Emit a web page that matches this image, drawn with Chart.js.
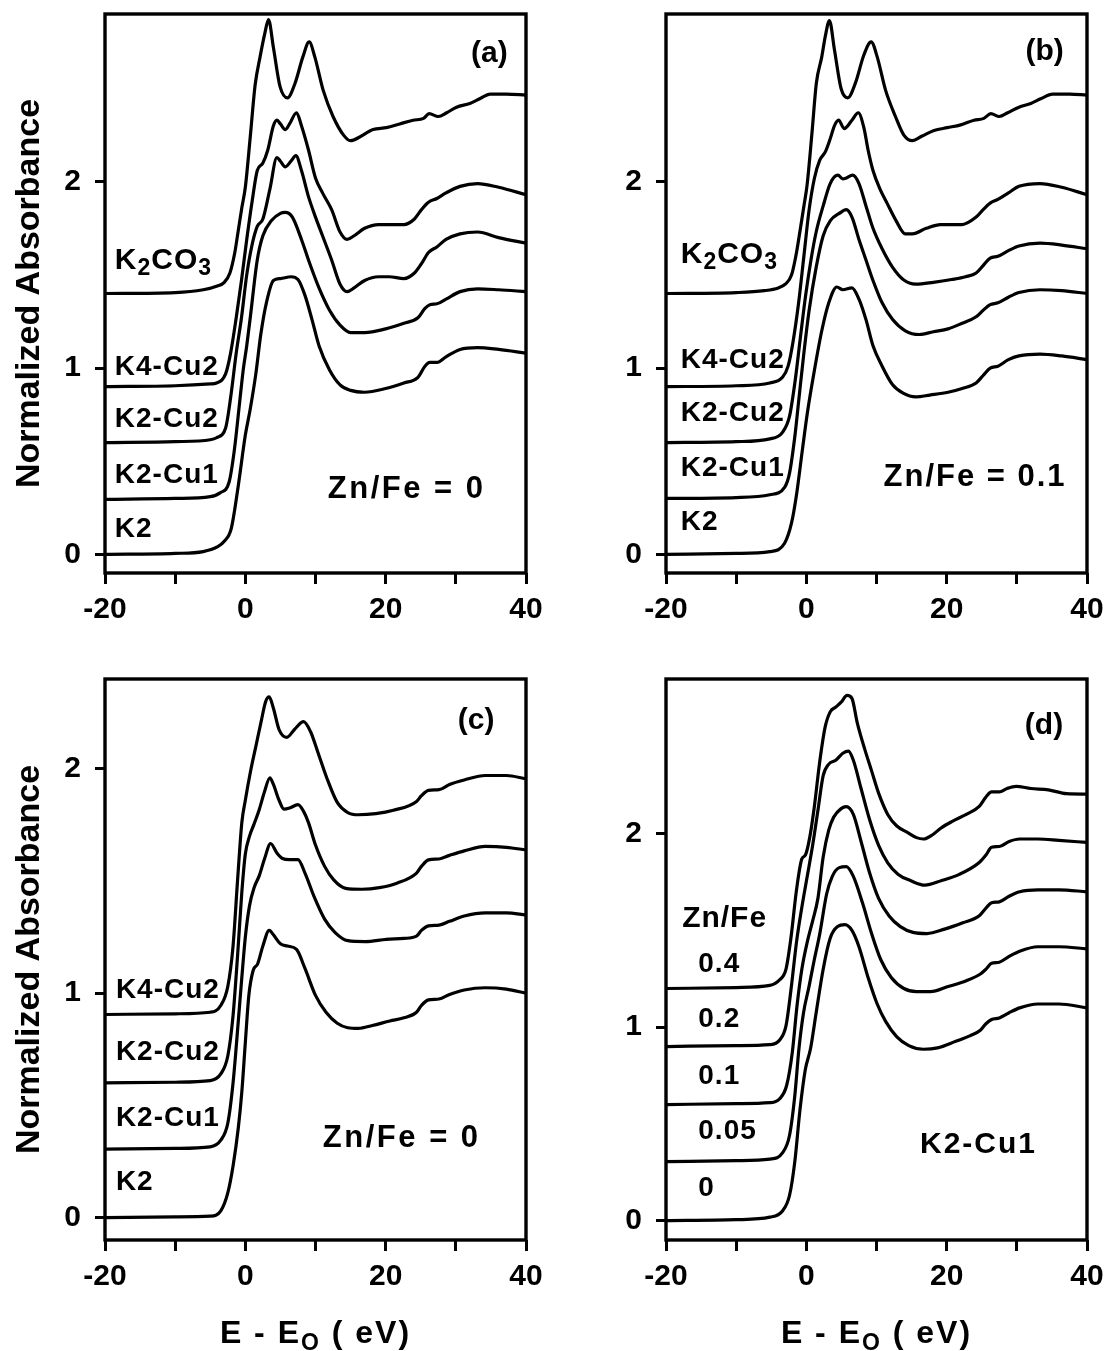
<!DOCTYPE html>
<html><head><meta charset="utf-8">
<script src="https://cdn.jsdelivr.net/npm/chart.js@4.4.1/dist/chart.umd.min.js"></script>
<style>
html,body{margin:0;padding:0;background:#fff;}
#wrap{position:relative;width:1106px;height:1351px;overflow:hidden;background:#fff;}
#wrap canvas{position:absolute;}
</style></head><body><div id="wrap">
<canvas id="ca" width="545" height="640" style="left:0px;top:0px"></canvas>
<canvas id="cb" width="545" height="640" style="left:561px;top:0px"></canvas>
<canvas id="cc" width="545" height="711" style="left:0px;top:640px"></canvas>
<canvas id="cd" width="545" height="711" style="left:561px;top:640px"></canvas>
</div>
<script>
// ---------- axis ticks ----------
const xTicks = [-20, -10, 0, 10, 20, 30, 40];
const xTickLabels = [-20, 0, 20, 40];
const yTicks = [0, 1, 2];

// ---------- panel (a): Zn/Fe = 0 ----------
const seriesA = ['K2', 'K2-Cu1', 'K2-Cu2', 'K4-Cu2', 'K2CO3'];
const eA_K2 = [-20,-10,-6,-4,-3,-2,-1,0,0.7,1.5,2.2,3.0,4.0,5.0,6.5,7.5,8.5,9.5,10.5,12,13.5,15,17,20,22.6,24.6,25.6,26.3,27.3,28.6,30.6,33.1,36.1,40];
const yA_K2 = [0,0.005,0.015,0.04,0.07,0.14,0.37,0.64,0.78,0.97,1.18,1.35,1.47,1.48,1.49,1.475,1.39,1.26,1.12,0.99,0.91,0.88,0.87,0.89,0.92,0.95,1.01,1.03,1.03,1.06,1.10,1.11,1.10,1.08];
const eA_K2Cu1 = [-20,-10,-5,-3.6,-2.3,-1.6,-0.8,-0.3,0.2,0.7,1.7,2.5,3.7,5.0,5.7,6.7,8.0,9.0,10.5,12,13.5,15,17,20,22.6,24.6,25.6,26.3,27.3,28.6,30.6,33.1,36.1,40];
const yA_K2Cu1 = [0.295,0.30,0.31,0.33,0.39,0.55,0.82,0.99,1.12,1.27,1.58,1.71,1.79,1.83,1.835,1.81,1.69,1.58,1.43,1.31,1.23,1.19,1.19,1.21,1.24,1.27,1.32,1.34,1.345,1.37,1.41,1.425,1.42,1.41];
const eA_K2Cu2 = [-20,-10,-5,-4.1,-2.8,-2.1,-1.3,-0.55,0.2,0.95,1.7,2.5,3.5,4.5,5.0,5.7,6.5,7.2,8.0,9.0,10,11,12.3,13.5,14.5,15.5,17,19,20.5,22.6,24.1,25.1,26.1,27.3,28.6,30.6,33.1,36.1,40];
const yA_K2Cu2 = [0.60,0.605,0.615,0.626,0.68,0.84,1.08,1.27,1.50,1.66,1.76,1.80,1.96,2.13,2.11,2.08,2.11,2.14,2.06,1.92,1.81,1.71,1.58,1.45,1.41,1.43,1.47,1.49,1.49,1.48,1.51,1.56,1.62,1.65,1.69,1.72,1.73,1.70,1.67];
const eA_K4Cu2 = [-20,-10,-5,-4.1,-2.8,-2.1,-1.3,-0.55,0.2,0.95,1.7,2.5,3.2,4.0,4.5,5.0,5.7,6.3,7.3,8.0,9,10,11,12.3,13.5,14.5,15.5,17,19,20.5,22.6,24.1,25.1,26.1,27.3,28.6,30.6,33.1,36.1,40];
const yA_K4Cu2 = [0.90,0.905,0.915,0.92,0.97,1.08,1.27,1.47,1.69,1.89,2.06,2.10,2.17,2.30,2.33,2.31,2.28,2.31,2.37,2.30,2.17,2.02,1.94,1.85,1.73,1.69,1.71,1.75,1.77,1.77,1.77,1.80,1.85,1.89,1.91,1.94,1.975,1.99,1.97,1.93];
const eA_K2CO3 = [-20,-10,-6,-4,-3,-2.2,-1.5,-1.0,-0.5,0,0.7,1.4,2.1,2.8,3.3,4.0,4.95,6.0,7.1,8.2,9.1,9.9,11.1,12.5,14.0,15.0,16.3,18.2,20.1,22.0,23.9,25.4,26.2,27.5,28.7,30.1,32.0,33.4,34.9,37.2,40];
const yA_K2CO3 = [1.40,1.405,1.42,1.44,1.46,1.51,1.62,1.74,1.86,1.97,2.24,2.52,2.67,2.80,2.87,2.72,2.51,2.45,2.53,2.67,2.75,2.67,2.49,2.35,2.25,2.22,2.24,2.28,2.29,2.31,2.33,2.34,2.365,2.35,2.37,2.40,2.42,2.445,2.47,2.47,2.465];

// ---------- panel (b): Zn/Fe = 0.1 ----------
const seriesB = ['K2', 'K2-Cu1', 'K2-Cu2', 'K4-Cu2', 'K2CO3'];
const eB_K2 = [-20,-10,-5.2,-3.1,-2.1,-1.4,-0.6,0.15,1.16,2.2,3.2,4.35,5.2,6.5,7.5,8.5,9.5,10.8,12.3,13.8,15.6,17.6,20.2,22.2,24.2,25.2,26.2,27.3,28.8,30.3,33.3,36.4,40];
const yB_K2 = [0,0.005,0.015,0.06,0.17,0.32,0.55,0.76,0.99,1.20,1.35,1.435,1.42,1.43,1.37,1.26,1.12,1.01,0.91,0.865,0.845,0.855,0.87,0.89,0.92,0.96,1.00,1.01,1.045,1.065,1.075,1.065,1.045];
const eB_K2Cu1 = [-20,-10,-5.2,-3.1,-2.4,-1.6,-1.1,-0.35,0.4,1.4,2.4,3.4,4.7,5.7,6.5,7.5,8.5,9.5,10.8,12.3,14.1,16.1,18.1,20.2,22.2,24.2,25.2,26.2,27.3,28.8,30.3,33.3,36.4,40];
const yB_K2Cu1 = [0.30,0.305,0.32,0.36,0.435,0.645,0.82,1.08,1.31,1.54,1.71,1.79,1.83,1.85,1.81,1.69,1.58,1.47,1.35,1.26,1.20,1.18,1.195,1.21,1.24,1.275,1.31,1.34,1.35,1.38,1.405,1.42,1.415,1.40];
const eB_K2Cu2 = [-20,-10,-5.2,-3.4,-2.4,-1.6,-0.86,-0.1,0.66,1.4,2.4,3.4,4.5,5.2,5.7,6.6,7.5,8.5,9.5,10.8,12.3,13.8,15.6,18.1,20.7,22.7,24.2,25.2,26.2,27.3,28.8,30.3,33.3,36.4,40];
const yB_K2Cu2 = [0.60,0.605,0.62,0.655,0.74,0.93,1.16,1.39,1.58,1.73,1.87,1.99,2.035,2.015,2.02,2.035,1.99,1.87,1.75,1.64,1.54,1.475,1.45,1.46,1.475,1.49,1.51,1.55,1.59,1.60,1.63,1.655,1.67,1.66,1.64];
const eB_K4Cu2 = [-20,-10,-5.2,-3.4,-2.6,-1.9,-1.1,-0.35,0.4,1.16,1.9,2.7,3.4,4.0,4.6,5.4,6.5,7.4,8.2,8.8,9.5,10.5,11.5,12.8,14.1,15.1,17.1,19.1,22.2,24.2,25.2,26.2,27.3,28.8,30.3,33.3,36.4,40];
const yB_K4Cu2 = [0.90,0.905,0.92,0.95,1.01,1.14,1.35,1.60,1.85,2.02,2.115,2.16,2.23,2.30,2.33,2.285,2.33,2.37,2.29,2.17,2.06,1.96,1.885,1.79,1.72,1.72,1.75,1.77,1.77,1.81,1.85,1.885,1.905,1.94,1.975,1.99,1.97,1.93];
const eB_K2CO3 = [-20,-10,-6,-4,-3,-2.1,-1.4,-0.8,-0.3,0.1,0.8,1.43,2.2,2.7,3.29,4.0,4.95,5.9,7.0,8.2,9.24,10.1,11.3,12.7,13.9,15.1,16.5,18.2,20.1,22.0,23.9,25.3,26.3,27.5,28.7,30.3,32.0,33.4,35.1,37.5,40];
const yB_K2CO3 = [1.40,1.405,1.415,1.43,1.45,1.50,1.62,1.76,1.88,1.98,2.26,2.53,2.67,2.78,2.865,2.71,2.50,2.45,2.53,2.68,2.75,2.67,2.49,2.35,2.25,2.22,2.245,2.275,2.29,2.305,2.33,2.34,2.365,2.35,2.37,2.40,2.42,2.445,2.47,2.47,2.465];

// ---------- panel (c): Zn/Fe = 0 ----------
const seriesC = ['K2', 'K2-Cu1', 'K2-Cu2', 'K4-Cu2'];
const eC_K2 = [-20,-10,-5,-3.5,-2.5,-1.75,-1.0,-0.5,0,0.5,1.1,1.75,2.5,3.4,4.0,5.0,6.0,7.3,8.5,10,11.5,13.1,14.6,16.1,18.1,20.6,22.6,24.4,25.1,26.1,27.6,29.1,31.2,34.2,37.2,40];
const yC_K2 = [0,0.003,0.006,0.03,0.11,0.23,0.40,0.56,0.78,0.99,1.10,1.13,1.21,1.28,1.26,1.22,1.21,1.195,1.11,0.99,0.915,0.866,0.846,0.843,0.856,0.876,0.89,0.915,0.945,0.97,0.974,0.994,1.014,1.024,1.018,1.0];
const eC_K2Cu1 = [-20,-10,-5,-3.5,-2.5,-1.75,-1.0,-0.5,0,0.6,1.25,2.0,2.75,3.6,4.5,5.3,6.3,7.5,8.5,9.8,11.3,12.8,14.6,17.1,20.1,22.6,24.4,25.1,26.1,27.6,29.1,31.2,34.2,37.2,40];
const yC_K2Cu1 = [0.305,0.308,0.315,0.345,0.42,0.60,0.876,1.07,1.25,1.39,1.47,1.525,1.60,1.667,1.625,1.60,1.595,1.595,1.535,1.43,1.33,1.27,1.234,1.23,1.24,1.244,1.254,1.28,1.30,1.303,1.32,1.344,1.358,1.358,1.348];
const eC_K2Cu2 = [-20,-10,-5,-3.5,-2.5,-1.75,-1.1,-0.5,0,0.6,1.2,2.0,2.75,3.5,4.0,4.8,5.5,6.3,7.5,8.3,9.0,10.0,11.3,12.6,14.3,16.6,19.1,21.6,24.4,25.1,26.1,27.6,29.1,31.2,34.2,37.2,40];
const yC_K2Cu2 = [0.60,0.603,0.61,0.64,0.72,0.90,1.17,1.45,1.62,1.70,1.75,1.82,1.90,1.96,1.93,1.86,1.82,1.825,1.84,1.81,1.76,1.66,1.565,1.505,1.467,1.463,1.47,1.49,1.535,1.565,1.594,1.598,1.614,1.634,1.654,1.65,1.638];
const eC_K4Cu2 = [-20,-10,-5,-3.5,-2.5,-1.75,-1.1,-0.5,0,0.75,1.5,2.25,2.9,3.4,4.0,4.8,5.9,7.0,8.3,9.3,10.3,11.6,13.1,14.6,16.1,18.6,21.1,24.4,25.1,26.1,27.6,29.1,31.2,34.2,37.2,40];
const yC_K4Cu2 = [0.905,0.908,0.915,0.945,1.03,1.21,1.506,1.76,1.86,1.99,2.10,2.21,2.30,2.32,2.27,2.175,2.14,2.175,2.21,2.165,2.077,1.96,1.85,1.805,1.795,1.80,1.815,1.854,1.88,1.904,1.907,1.93,1.95,1.97,1.97,1.955];

// ---------- panel (d): K2-Cu1, varying Zn/Fe ----------
const seriesD = ['0', '0.05', '0.1', '0.2', '0.4'];
const eD_0 = [-20,-10,-5.2,-3.4,-2.4,-1.66,-0.9,-0.15,0.6,1.4,2.4,3.4,4.45,5.5,6.5,7.5,8.8,10.1,11.3,12.9,14.6,16.7,18.7,21.3,23.3,24.8,25.6,26.4,27.5,28.9,30.4,33,36,40];
const yD_0 = [0,0.005,0.018,0.05,0.13,0.30,0.575,0.78,0.89,1.075,1.30,1.46,1.52,1.53,1.50,1.416,1.257,1.12,1.03,0.95,0.905,0.886,0.893,0.927,0.955,0.984,1.018,1.04,1.048,1.075,1.10,1.12,1.12,1.10];
const eD_005 = [-20,-10,-5.2,-3.4,-2.4,-1.66,-1.05,-0.4,0.38,1.14,1.9,2.9,3.7,4.7,5.7,6.7,8.0,9.3,10.6,12.1,13.9,15.7,17.7,20.2,22.8,24.8,25.6,26.4,27.5,28.9,30.4,33,36,40];
const yD_005 = [0.305,0.31,0.318,0.35,0.44,0.64,0.89,1.075,1.21,1.35,1.48,1.69,1.78,1.825,1.83,1.78,1.643,1.484,1.35,1.257,1.20,1.184,1.184,1.21,1.24,1.275,1.30,1.33,1.336,1.366,1.393,1.416,1.416,1.405];
const eD_01 = [-20,-10,-5.2,-3.8,-2.8,-2.0,-1.3,-0.64,0.13,0.9,1.65,2.4,3.2,3.9,4.96,5.7,6.7,7.8,9.0,10.3,11.8,13.4,15.2,17.2,19.7,22.3,24.6,25.6,26.4,27.5,28.9,30.4,33,36,40];
const yD_01 = [0.60,0.605,0.61,0.63,0.70,0.87,1.12,1.30,1.44,1.55,1.666,1.88,2.02,2.086,2.13,2.14,2.10,1.96,1.80,1.666,1.575,1.52,1.49,1.484,1.507,1.54,1.575,1.616,1.643,1.648,1.677,1.70,1.71,1.71,1.70];
const eD_02 = [-20,-10,-5.2,-3.8,-2.9,-2.2,-1.4,-0.64,0.13,0.9,1.65,2.4,3.2,4.2,5.2,6.0,6.7,7.8,9.0,10.3,11.6,13.1,14.9,16.9,19.2,21.8,24.6,25.6,26.4,27.5,28.9,30.4,33,36,40];
const yD_02 = [0.90,0.905,0.91,0.934,1.007,1.19,1.44,1.62,1.78,1.94,2.12,2.30,2.36,2.38,2.416,2.427,2.38,2.234,2.075,1.94,1.85,1.79,1.757,1.734,1.757,1.79,1.85,1.89,1.93,1.934,1.96,1.973,1.973,1.966,1.955];
const eD_04 = [-20,-10,-5.2,-3.8,-2.9,-2.2,-1.4,-0.64,-0.13,0.48,1.14,1.9,2.67,3.4,4.2,4.96,5.8,6.5,7.25,8.3,9.3,10.3,11.6,12.9,14.4,15.7,16.7,18,19.2,20.8,22.8,24.6,25.6,26.4,27.5,28.6,29.9,32,34.5,37.1,40];
const yD_04 = [1.20,1.205,1.216,1.245,1.30,1.46,1.71,1.87,1.89,1.98,2.14,2.37,2.55,2.63,2.655,2.68,2.715,2.70,2.575,2.44,2.325,2.21,2.10,2.04,2.007,1.98,1.973,1.995,2.03,2.064,2.10,2.14,2.19,2.216,2.216,2.234,2.245,2.234,2.227,2.207,2.205];

// ---------- rendering ----------
const FONT = 'Arial, "Liberation Sans", Helvetica, sans-serif';
Chart.defaults.color = '#000';
Chart.defaults.font.family = FONT;

const panelText = {
  id: 'panelText',
  afterDraw(chart, args, o) {
    const ctx = chart.ctx;
    const ca = chart.chartArea;
    const xs = chart.scales.x, ys = chart.scales.y;
    ctx.save();
    ctx.strokeStyle = '#000';
    ctx.lineWidth = 3.4;
    ctx.strokeRect(ca.left, ca.top, ca.right - ca.left, ca.bottom - ca.top);
    ctx.fillStyle = '#000';
    ctx.textAlign = 'left';
    ctx.textBaseline = 'alphabetic';
    const drawSegs = (segs, size, subSize, subShift, ls, x, y, align) => {
      const ws = segs.map(([t, sub]) => {
        ctx.font = 'bold ' + (sub ? subSize : size) + 'px ' + FONT;
        ctx.letterSpacing = ls + 'px';
        return ctx.measureText(t).width;
      });
      const total = ws.reduce((a, b) => a + b, 0);
      let x0 = align === 'right' ? x - total : (align === 'center' ? x - total / 2 : x);
      segs.forEach(([t, sub], i) => {
        ctx.font = 'bold ' + (sub ? subSize : size) + 'px ' + FONT;
        ctx.letterSpacing = ls + 'px';
        ctx.fillText(t, x0, y + (sub ? subShift : 0));
        x0 += ws[i];
      });
    };
    for (const it of (o.items || [])) {
      const px = xs.getPixelForValue(it.x);
      const py = ys.getPixelForValue(it.y) + 0.36 * it.size;
      const segs = it.segs || [[it.text, 0]];
      drawSegs(segs, it.size, it.subSize || it.size, it.subShift || 0, it.ls || 0, px, py, it.align || 'left');
    }
    if (o.yTitle) {
      ctx.save();
      ctx.translate(o.yTitle.x, (ca.top + ca.bottom) / 2);
      ctx.rotate(-Math.PI / 2);
      ctx.font = 'bold ' + o.yTitle.size + 'px ' + FONT;
      ctx.letterSpacing = '0px';
      ctx.textAlign = 'center';
      ctx.fillText(o.yTitle.text, 0, 0);
      ctx.restore();
      ctx.textAlign = 'left';
    }
    if (o.xTitle) {
      const t = o.xTitle;
      drawSegs(t.segs, t.size, t.subSize, t.subShift, t.ls, (ca.left + ca.right) / 2, ca.bottom + t.dy, 'center');
    }
    ctx.restore();
  }
};

function makeDatasets(names, es, ys) {
  return names.map((n, i) => ({
    label: n,
    data: es[i].map((e, k) => ({ x: e, y: ys[i][k] })),
    borderColor: '#000',
    borderWidth: 3.2,
    pointRadius: 0,
    fill: false,
    cubicInterpolationMode: 'monotone'
  }));
}

const tickFont = { family: FONT, size: 30, weight: 'bold' };
const yTitleOpt = { text: 'Normalized Absorbance', size: 34, x: 39 };
const xTitleOpt = { segs: [['E - E', 0], ['O', 1], [' ( eV)', 0]], size: 32, subSize: 23, subShift: 7, ls: 2, dy: 103 };

function makeChart(id, names, es, ys, ymax, xAxisH, padTop, texts, withY, withX) {
  return new Chart(document.getElementById(id), {
    type: 'line',
    data: { datasets: makeDatasets(names, es, ys) },
    plugins: [panelText],
    options: {
      responsive: false,
      animation: false,
      events: [],
      layout: { padding: { left: 0, top: padTop, right: 19, bottom: 0 } },
      plugins: {
        legend: { display: false },
        tooltip: { enabled: false },
        panelText: { items: texts, yTitle: withY ? yTitleOpt : null, xTitle: withX ? xTitleOpt : null }
      },
      scales: {
        x: {
          type: 'linear', min: -20, max: 40,
          afterBuildTicks: s => { s.ticks = xTicks.map(v => ({ value: v })); },
          afterFit: s => { s.height = xAxisH; s.paddingLeft = 0; s.paddingRight = 0; },
          ticks: { font: tickFont, color: '#000', padding: 8, autoSkip: false, maxRotation: 0,
                   callback: v => xTickLabels.includes(v) ? String(v) : '' },
          grid: { drawOnChartArea: false, drawTicks: true, tickLength: 11, tickWidth: 3, tickColor: '#000' },
          border: { display: false }
        },
        y: {
          type: 'linear', min: -0.1, max: ymax,
          afterBuildTicks: s => { s.ticks = yTicks.map(v => ({ value: v })); },
          afterFit: s => { s.width = 105; s.paddingTop = 0; s.paddingBottom = 0; },
          ticks: { font: tickFont, color: '#000', padding: 14, callback: v => String(v) },
          grid: { drawOnChartArea: false, drawTicks: true, tickLength: 10, tickWidth: 3, tickColor: '#000' },
          border: { display: false }
        }
      }
    }
  });
}

const lab = (text, x, y, size, extra) => Object.assign({ text, x, y, size: size || 28, ls: 1 }, extra || {});
const k2co3 = (x, y) => ({ segs: [['K', 0], ['2', 1], ['CO', 0], ['3', 1]], x, y, size: 30, subSize: 23, subShift: 6, ls: 1 });

makeChart('ca', seriesA,
  [eA_K2, eA_K2Cu1, eA_K2Cu2, eA_K4Cu2, eA_K2CO3],
  [yA_K2, yA_K2Cu1, yA_K2Cu2, yA_K4Cu2, yA_K2CO3], 2.9, 67, 14,
  [k2co3(-18.6, 1.59), lab('K4-Cu2', -18.6, 1.017), lab('K2-Cu2', -18.6, 0.735), lab('K2-Cu1', -18.6, 0.435),
   lab('K2', -18.6, 0.149), lab('Zn/Fe = 0', 11.75, 0.36, 31, { ls: 2.5 }), lab('(a)', 37.4, 2.70, 30, { align: 'right', ls: 0 })],
  true, false);

makeChart('cb', seriesB,
  [eB_K2, eB_K2Cu1, eB_K2Cu2, eB_K4Cu2, eB_K2CO3],
  [yB_K2, yB_K2Cu1, yB_K2Cu2, yB_K4Cu2, yB_K2CO3], 2.9, 67, 14,
  [k2co3(-17.9, 1.62), lab('K4-Cu2', -17.9, 1.055), lab('K2-Cu2', -17.9, 0.77), lab('K2-Cu1', -17.9, 0.473),
   lab('K2', -17.9, 0.187), lab('Zn/Fe = 0.1', 11.0, 0.426, 31, { ls: 2 }), lab('(b)', 36.7, 2.71, 30, { align: 'right', ls: 0 })],
  false, false);

makeChart('cc', seriesC,
  [eC_K2, eC_K2Cu1, eC_K2Cu2, eC_K4Cu2],
  [yC_K2, yC_K2Cu1, yC_K2Cu2, yC_K4Cu2], 2.4, 111, 39,
  [lab('K4-Cu2', -18.45, 1.024), lab('K2-Cu2', -18.45, 0.748), lab('K2-Cu1', -18.45, 0.453),
   lab('K2', -18.45, 0.167), lab('Zn/Fe = 0', 11.05, 0.364, 31, { ls: 2.5 }), lab('(c)', 35.5, 2.226, 30, { align: 'right', ls: 0 })],
  true, true);

makeChart('cd', seriesD,
  [eD_0, eD_005, eD_01, eD_02, eD_04],
  [yD_0, yD_005, yD_01, yD_02, yD_04], 2.8, 111, 39,
  [lab('Zn/Fe', -17.7, 1.575, 30), lab('0.4', -15.4, 1.336), lab('0.2', -15.4, 1.052), lab('0.1', -15.4, 0.761),
   lab('0.05', -15.4, 0.473), lab('0', -15.4, 0.177), lab('K2-Cu1', 16.2, 0.405, 30, { ls: 2 }),
   lab('(d)', 36.6, 2.574, 30, { align: 'right', ls: 0 })],
  false, true);
</script>
</body></html>
